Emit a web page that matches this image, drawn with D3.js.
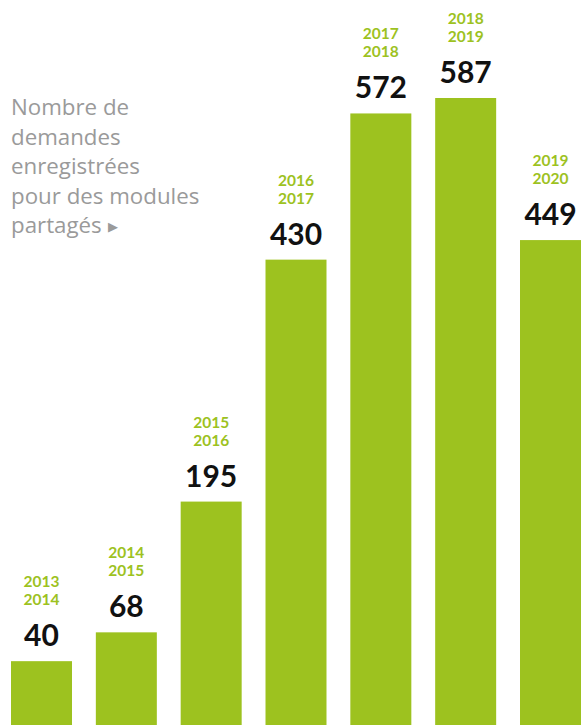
<!DOCTYPE html>
<html>
<head>
<meta charset="utf-8">
<script src="https://cdn.jsdelivr.net/npm/d3@7"></script>
<style>
  body { margin: 0; background: #fff; }
  svg { display: block; }
</style>
</head>
<body>
<div id="chart"></div>
<script>
const startYears = ['2013', '2014', '2015', '2016', '2017', '2018', '2019'];
const endYears = ['2014', '2015', '2016', '2017', '2018', '2019', '2020'];
const values = [40, 68, 195, 430, 572, 587, 449];
const titleLines = ['Nombre de', 'demandes', 'enregistrées', 'pour des modules', 'partagés'];

const W = 581, H = 725;
const GREEN = '#9dc21f';

const svg = d3.select('#chart').append('svg')
  .attr('width', W).attr('height', H);

const x = d3.scaleBand()
  .domain(startYears)
  .range([11, 581])
  .paddingInner(0.281)
  .paddingOuter(0);

// bars don't start at zero in the original, a small base offset is kept
const y = d3.scaleLinear()
  .domain([-22, 587])
  .range([H, 98]);

const data = startYears.map((s, i) => ({ s, e: endYears[i], v: values[i] }));

svg.selectAll('.bar')
  .data(data)
  .join('rect')
  .attr('class', 'bar')
  .attr('x', d => x(d.s))
  .attr('y', d => y(d.v))
  .attr('width', x.bandwidth())
  .attr('height', d => H - y(d.v))
  .attr('fill', GREEN);

const lbl = svg.selectAll('.lbl')
  .data(data)
  .join('g')
  .attr('class', 'lbl')
  .attr('transform', d => `translate(${x(d.s) + x.bandwidth() / 2},${y(d.v)})`);

lbl.append('text')
  .attr('y', -15)
  .attr('text-anchor', 'middle')
  .attr('font-family', 'Lato, sans-serif')
  .attr('font-weight', 700)
  .attr('font-size', 30)
  .attr('fill', '#111')
  .text(d => d.v);

const yrs = lbl.append('text')
  .attr('text-anchor', 'middle')
  .attr('font-family', 'Lato, sans-serif')
  .attr('font-weight', 700)
  .attr('font-size', 15.5)
  .attr('fill', GREEN);

yrs.append('tspan').attr('x', 0).attr('y', -74).text(d => d.s);
yrs.append('tspan').attr('x', 0).attr('y', -56).text(d => d.e);

// title block
const title = svg.append('text')
  .attr('font-family', '"Open Sans", sans-serif')
  .attr('font-size', 22.3)
  .attr('fill', '#9a9a9a');

title.selectAll('tspan')
  .data(titleLines)
  .join('tspan')
  .attr('x', 11)
  .attr('y', (d, i) => 115 + i * 29.5)
  .text(d => d);

title.append('tspan')
  .attr('font-size', 13)
  .attr('dx', 6)
  .attr('dy', -2)
  .text('▶');
</script>
</body>
</html>
